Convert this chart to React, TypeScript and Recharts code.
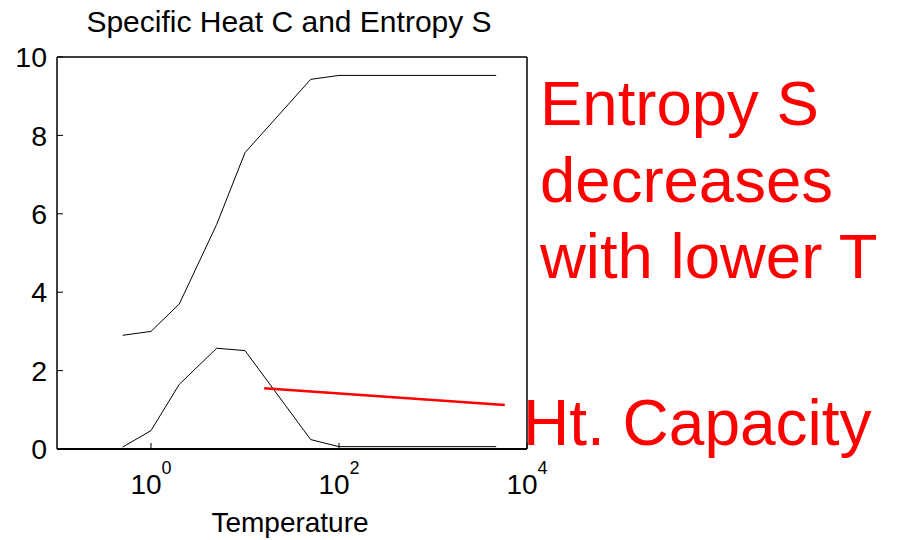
import { LineChart, Line, XAxis, YAxis, ReferenceLine } from 'recharts';

// values
const temperatures = [0.5, 1, 2, 5, 10, 50, 100, 4700];
const entropyS = [2.9, 3.0, 3.7, 5.73, 7.56, 9.43, 9.53, 9.53];
const heatCapacityC = [0.05, 0.47, 1.65, 2.57, 2.51, 0.24, 0.06, 0.06];

const xTicks = [1, 100, 10000];
const yTicks = [0, 2, 4, 6, 8, 10];

// red annotation line (temperature, value)
const markerTemps = [16, 5800];
const markerValues = [1.55, 1.12];

const annotationLines = ['Entropy S', 'decreases', 'with lower T'];
const capacityLabel = 'Ht. Capacity';

const data = temperatures.map((t, i) => ({ t, s: entropyS[i], c: heatCapacityC[i] }));

const FONT = '"Liberation Sans", Arial, Helvetica, sans-serif';
const TICK_LEN = 6;

// bottom axis: inward tick + 10^n label
function PowerTick({ x, y, payload }: any) {
  const exp = Math.round(Math.log10(payload.value));
  return (
    <g>
      <line x1={x} y1={y} x2={x} y2={y - TICK_LEN} stroke="#000" strokeWidth={1} />
      <text x={x} y={y + 45} textAnchor="middle" fontFamily={FONT} fill="#000">
        <tspan fontSize={28}>10</tspan>
        <tspan fontSize={18} dy={-20.5}>{exp}</tspan>
      </text>
    </g>
  );
}

// left axis: inward tick + number
function LeftTick({ x, y, payload }: any) {
  return (
    <g>
      <line x1={x} y1={y} x2={x + TICK_LEN} y2={y} stroke="#000" strokeWidth={1} />
      <text x={x - 10} y={y} dy="0.36em" textAnchor="end" fontSize={28.5} fontFamily={FONT} fill="#000">
        {payload.value}
      </text>
    </g>
  );
}

export default function App() {
  return (
    <div style={{ position: 'absolute', left: 0, top: 0, width: 902, height: 540, background: '#fff' }}>
      <LineChart
        width={902}
        height={540}
        data={data}
        margin={{ top: 57, right: 375, bottom: 51, left: 0 }}
      >
        <XAxis
          dataKey="t"
          type="number"
          scale="log"
          domain={[0.1, 10000]}
          allowDataOverflow
          ticks={xTicks}
          height={40}
          tickSize={0}
          tickMargin={0}
          tickLine={false}
          tick={<PowerTick />}
          axisLine={{ stroke: '#000', strokeWidth: 2 }}
        />
        <XAxis
          xAxisId="top"
          orientation="top"
          mirror
          dataKey="t"
          type="number"
          scale="log"
          domain={[0.1, 10000]}
          allowDataOverflow
          ticks={xTicks}
          height={30}
          tickSize={TICK_LEN}
          tick={false}
          axisLine={{ stroke: '#000', strokeWidth: 1.5 }}
          tickLine={{ stroke: '#000', strokeWidth: 1 }}
        />
        <YAxis
          type="number"
          domain={[0, 10]}
          ticks={yTicks}
          width={57}
          tickSize={0}
          tickMargin={0}
          tickLine={false}
          tick={<LeftTick />}
          axisLine={{ stroke: '#000', strokeWidth: 1.5 }}
        />
        <YAxis
          yAxisId="right"
          orientation="right"
          mirror
          type="number"
          domain={[0, 10]}
          allowDataOverflow
          ticks={yTicks}
          width={30}
          tickSize={TICK_LEN}
          tick={false}
          axisLine={{ stroke: '#000', strokeWidth: 1.5 }}
          tickLine={{ stroke: '#000', strokeWidth: 1 }}
        />
        {/* invisible series so the mirrored box axes get drawn */}
        <Line
          xAxisId="top"
          yAxisId="right"
          dataKey="s"
          stroke="none"
          dot={false}
          activeDot={false}
          isAnimationActive={false}
        />
        <Line
          type="linear"
          dataKey="s"
          stroke="#000"
          strokeWidth={1}
          dot={false}
          isAnimationActive={false}
        />
        <Line
          type="linear"
          dataKey="c"
          stroke="#000"
          strokeWidth={1}
          dot={false}
          isAnimationActive={false}
        />
        <ReferenceLine
          segment={[
            { x: markerTemps[0], y: markerValues[0] },
            { x: markerTemps[1], y: markerValues[1] },
          ]}
          stroke="#ff0000"
          strokeWidth={2.5}
        />
      </LineChart>
      <svg
        width={902}
        height={540}
        style={{ position: 'absolute', left: 0, top: 0, pointerEvents: 'none' }}
      >
        <text x={289} y={32} textAnchor="middle" fontSize={30} fontFamily={FONT} fill="#000">
          Specific Heat C and Entropy S
        </text>
        <text x={290} y={532} textAnchor="middle" fontSize={28} fontFamily={FONT} fill="#000">
          Temperature
        </text>
        {annotationLines.map((line, i) => (
          <text key={line} x={540} y={125 + i * 76.5} fontSize={63.5} fontFamily={FONT} fill="#ff0000">
            {line}
          </text>
        ))}
        <text x={523} y={445} fontSize={64} fontFamily={FONT} fill="#ff0000">
          {capacityLabel}
        </text>
      </svg>
    </div>
  );
}
